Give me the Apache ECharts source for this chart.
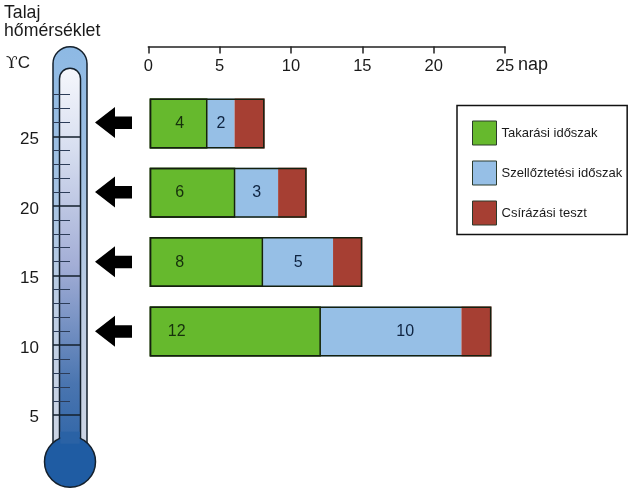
<!DOCTYPE html>
<html>
<head>
<meta charset="utf-8">
<style>
  html, body { margin: 0; padding: 0; background: #fff; }
  #chart { width: 630px; height: 489px; }
</style>
<script src="https://cdn.jsdelivr.net/npm/echarts@6/dist/echarts.min.js"></script>
</head>
<body>
<div id="chart"></div>
<script>
// adatok
var temps = ['26', '21', '16', '11']
var arrowTemps = [26, 21, 16, 11]
var takaras = [4.05, 6, 7.95, 12]
var szellozetes = [1.9, 3, 4.9, 9.85]
var csirazas = [2.1, 2, 2.05, 2.1]
var takarasLabels = ['4', '6', '8', '12']
var szellozetesLabels = ['2', '3', '5', '10']
var dayTicks = [0, 5, 10, 15, 20, 25]
var majorTemps = [5, 10, 15, 20, 25]
var minorTemps = [6, 7, 8, 9, 11, 12, 13, 14, 16, 17, 18, 19, 21, 22, 23, 24, 26, 27, 28]

var FONT = '"Liberation Sans", Arial, sans-serif'
var LINE = '#14202c'

var chart = echarts.init(document.getElementById('chart'))

// a keret a teljes sávot és a zöld részt rajzolja körbe, a kék-piros határon nincs vonal
var totals = takaras.map(function (v, i) { return v + szellozetes[i] + csirazas[i] })

// hőmérő: pixelben megadott szélességek, a magasság a hőmérséklet tengelyről jön
function renderThermometer(params, api) {
  var cx = 70
  var top = api.coord([0, 28])[1]
  var bulbY = api.coord([0, 5])[1] + 47
  var outerTop = top - 48
  var innerTop = top - 26.5
  var grad = function (stops) { return new echarts.graphic.LinearGradient(0, 0, 0, 1, stops) }
  return {
    type: 'group',
    children: [
      {
        type: 'path',
        shape: {
          pathData: 'M' + (cx - 17) + ' ' + bulbY + ' V' + (outerTop + 17) +
            ' A17 17 0 0 1 ' + (cx + 17) + ' ' + (outerTop + 17) + ' V' + bulbY + ' Z',
          x: cx - 17, y: outerTop, width: 34, height: bulbY - outerTop
        },
        style: {
          fill: grad([
            { offset: 0, color: '#8db9e4' },
            { offset: 0.25, color: '#9dbfe3' },
            { offset: 0.6, color: '#bccde4' },
            { offset: 1, color: '#cfd6e4' }
          ]),
          stroke: LINE, lineWidth: 1.5
        }
      },
      {
        type: 'path',
        shape: {
          pathData: 'M' + (cx - 10.5) + ' ' + bulbY + ' V' + (innerTop + 10.5) +
            ' A10.5 10.5 0 0 1 ' + (cx + 10.5) + ' ' + (innerTop + 10.5) + ' V' + bulbY + ' Z',
          x: cx - 10.5, y: innerTop, width: 21, height: bulbY - innerTop
        },
        style: {
          fill: grad([
            { offset: 0, color: '#f6f7fc' },
            { offset: 0.2, color: '#d8dff0' },
            { offset: 0.5, color: '#a3aed6' },
            { offset: 0.8, color: '#4a75b0' },
            { offset: 1, color: '#2a62a5' }
          ]),
          stroke: LINE, lineWidth: 1.5
        }
      },
      {
        type: 'circle',
        shape: { cx: cx, cy: bulbY, r: 25.5 },
        style: { fill: '#1f5ca3', stroke: LINE, lineWidth: 1.5 }
      },
      {
        type: 'rect',
        shape: { x: cx - 9.7, y: bulbY - 30, width: 19.4, height: 12 },
        style: { fill: '#2a62a5' }
      }
    ]
  }
}

var options = {
  backgroundColor: '#fff',
  animation: false,
  textStyle: { fontFamily: FONT },
  title: {
    text: 'Talaj\nhőmérséklet',
    left: 4,
    top: 4,
    padding: 0,
    textStyle: { fontFamily: FONT, fontSize: 17.7, fontWeight: 'normal', color: '#1a1a1a', lineHeight: 18 }
  },
  graphic: [
    {
      type: 'text', left: 518, top: 56,
      style: { text: 'nap', font: '18px ' + FONT, fill: '#1a1a1a' }
    },
    {
      type: 'text', left: 6, top: 55,
      style: {
        text: '{a|ϒ}{b|C}',
        rich: {
          a: { fontFamily: '"DejaVu Serif", serif', fontSize: 17, fill: '#1a1a1a', color: '#1a1a1a' },
          b: { fontFamily: FONT, fontSize: 17, fill: '#1a1a1a', color: '#1a1a1a' }
        }
      }
    }
  ],
  legend: {
    left: 457,
    top: 105.5,
    orient: 'vertical',
    icon: 'rect',
    data: ['Takarási időszak', 'Szellőztetési időszak', 'Csírázási teszt'],
    itemWidth: 24,
    itemHeight: 24,
    itemGap: 15,
    padding: [15, 5, 9, 15],
    borderColor: '#111',
    borderWidth: 1.5,
    selectedMode: false,
    itemStyle: { borderColor: '#2b3a2b', borderWidth: 1 },
    textStyle: { fontFamily: FONT, fontSize: 13, color: '#1a1a1a', padding: [0, 0, 5, 0] }
  },
  grid: [
    // sávok
    { left: 149.7, top: 88.85, width: 356.7, height: 277.2 },
    // felső skála
    { left: 148.3, top: 46.5, width: 356.7, height: 10 },
    // hőmérő skála, 5 és 28 fok között
    { left: 53, top: 94.7, width: 80, height: 320 }
  ],
  xAxis: [
    { gridIndex: 0, type: 'value', min: 0, max: 25, show: false },
    {
      gridIndex: 1,
      type: 'value',
      position: 'top',
      min: 0,
      max: 25,
      interval: 5,
      splitLine: { show: false },
      axisLine: { show: true, onZero: false, lineStyle: { color: '#222', width: 1.5 } },
      axisTick: { show: true, inside: true, length: 7, lineStyle: { color: '#222', width: 1.5 } },
      axisLabel: {
        inside: true,
        margin: 11,
        fontFamily: FONT,
        fontSize: 16.5,
        color: '#1a1a1a',
        customValues: dayTicks
      }
    },
    { gridIndex: 2, type: 'value', min: 0, max: 80, show: false }
  ],
  yAxis: [
    { gridIndex: 0, type: 'category', inverse: true, data: temps, show: false },
    { gridIndex: 1, type: 'value', show: false },
    {
      gridIndex: 2,
      type: 'value',
      position: 'left',
      min: 5,
      max: 28,
      z: 10,
      splitLine: { show: false },
      axisLine: { show: false },
      axisTick: {
        show: true, inside: true, length: 27, customValues: majorTemps,
        lineStyle: { color: LINE, width: 1.5 }
      },
      axisLabel: {
        show: true, margin: 14, fontFamily: FONT, fontSize: 17, color: '#1a1a1a',
        verticalAlign: 'top',
        lineHeight: 6,
        customValues: majorTemps
      }
    },
    {
      gridIndex: 2,
      type: 'value',
      position: 'left',
      min: 5,
      max: 28,
      z: 10,
      splitLine: { show: false },
      axisLine: { show: false },
      axisLabel: { show: false },
      axisTick: {
        show: true, inside: true, length: 17, customValues: minorTemps,
        lineStyle: { color: '#2c3c58', width: 1 }
      }
    }
  ],
  series: [
    {
      name: 'hőmérő',
      type: 'custom',
      xAxisIndex: 2,
      yAxisIndex: 2,
      clip: false,
      silent: true,
      data: [[0, 5]],
      renderItem: renderThermometer
    },
    {
      name: 'nyilak',
      type: 'scatter',
      xAxisIndex: 2,
      yAxisIndex: 2,
      clip: false,
      silent: true,
      symbol: 'path://M0 15.5 L20 0 V9.5 H37 V22 H20 V31 Z',
      symbolSize: [37, 31],
      itemStyle: { color: '#000', opacity: 1 },
      data: arrowTemps.map(function (t) { return [60.5, t] })
    },
    {
      name: 'Takarási időszak',
      type: 'bar',
      stack: 'nap',
      barWidth: 50,
      itemStyle: { color: '#66b92d' },
      label: {
        show: true,
        position: [30, '50%'],
        align: 'center',
        verticalAlign: 'middle',
        fontFamily: FONT,
        fontSize: 16,
        color: '#16300c',
        formatter: function (p) { return takarasLabels[p.dataIndex] }
      },
      data: takaras.map(function (v, i) {
        return i === 3 ? { value: v, label: { position: [27, '50%'] } } : v
      })
    },
    {
      name: 'Szellőztetési időszak',
      type: 'bar',
      stack: 'nap',
      barWidth: 50,
      itemStyle: { color: '#96bfe6' },
      label: {
        show: true,
        position: 'inside',
        fontFamily: FONT,
        fontSize: 16,
        color: '#0e2340',
        formatter: function (p) { return szellozetesLabels[p.dataIndex] }
      },
      data: szellozetes.map(function (v, i) {
        return i === 3 ? { value: v, label: { offset: [14, 0] } } : v
      })
    },
    {
      name: 'Csírázási teszt',
      type: 'bar',
      stack: 'nap',
      barWidth: 50,
      itemStyle: { color: '#a63f33' },
      data: csirazas
    },
    {
      name: 'keret',
      type: 'bar',
      barWidth: 50,
      barGap: '-100%',
      silent: true,
      z: 5,
      itemStyle: { color: 'transparent', borderColor: '#14200f', borderWidth: 1.5 },
      data: totals
    },
    {
      name: 'keret2',
      type: 'bar',
      barWidth: 50,
      barGap: '-100%',
      silent: true,
      z: 5,
      itemStyle: { color: 'transparent', borderColor: '#14200f', borderWidth: 1.5 },
      data: takaras
    }
  ]
}

chart.setOption(options)
</script>
</body>
</html>
